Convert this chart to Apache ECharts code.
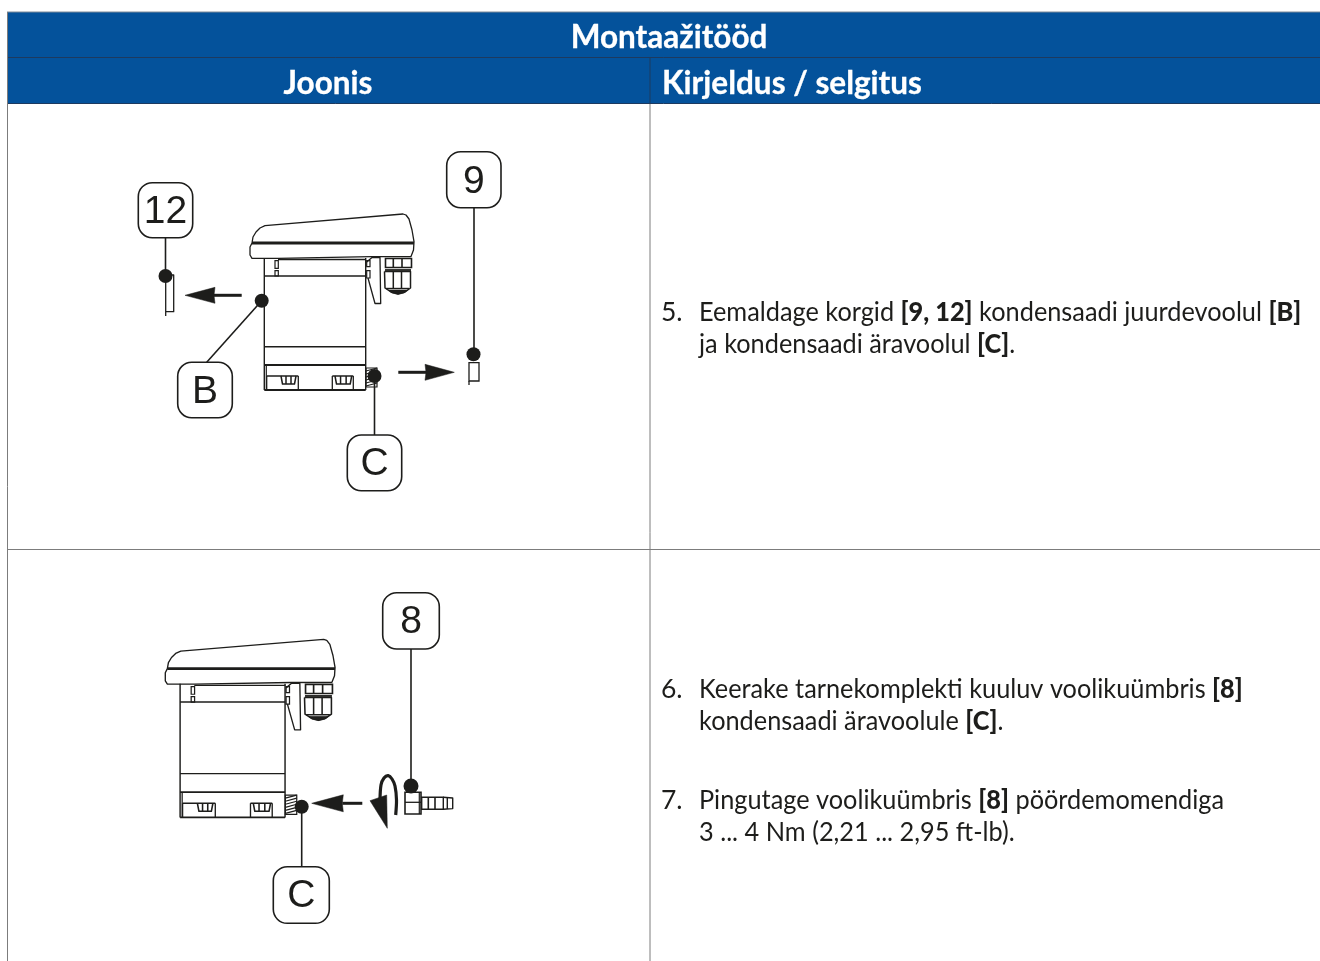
<!DOCTYPE html>
<html>
<head>
<meta charset="utf-8">
<style>
  html, body { margin: 0; padding: 0; background: #fff; }
  #main { width: 1320px; height: 961px; }
</style>
<script src="https://cdn.jsdelivr.net/npm/echarts@6/dist/echarts.min.js"></script>
</head>
<body>
<div id="main"></div>
<script>
  // texts of the table
  var tableTitle = 'Montaažitööd'
  var columnTitles = ['Joonis', 'Kirjeldus / selgitus']
  var stepNumbers = ['5.', '6.', '7.']
  var stepLines = [
    ['Eemaldage korgid {b|[9, 12]} kondensaadi juurdevoolul {b|[B]}', 'ja kondensaadi äravoolul {b|[C]}.'],
    ['Keerake tarnekomplekti kuuluv voolikuümbris {b|[8]}', 'kondensaadi äravoolule {b|[C]}.'],
    ['Pingutage voolikuümbris {b|[8]} pöördemomendiga', '3 ... 4 Nm (2,21 ... 2,95 ft-lb).']
  ]
  var calloutLabels = ['12', '9', 'B', 'C', '8', 'C']

  var BLUE = '#04529b'
  var INK = '#1d1d1b'
  var GRID = '#7c7c7c'
  var BODY_FONT = 'Lato'

  function line(x1, y1, x2, y2, w, color) {
    return {
      type: 'line', silent: true,
      shape: { x1: x1, y1: y1, x2: x2, y2: y2 },
      style: { stroke: color || INK, lineWidth: w || 1.4 }
    }
  }
  function box(x, y, w, h, lw, fill, r) {
    return {
      type: 'rect', silent: true,
      shape: { x: x, y: y, width: w, height: h, r: r || 0 },
      style: { stroke: INK, lineWidth: lw || 1.4, fill: fill || 'none' }
    }
  }
  function poly(points, lw, fill, smooth) {
    return {
      type: fill ? 'polygon' : 'polyline', silent: true,
      shape: { points: points, smooth: smooth || 0 },
      style: { stroke: INK, lineWidth: lw || 1.4, fill: fill || 'none', lineJoin: 'round' }
    }
  }
  function dot(x, y, r) {
    return {
      type: 'circle', silent: true, z: 5,
      shape: { cx: x, cy: y, r: r || 7 },
      style: { fill: INK }
    }
  }
  function text(x, y, str, font, color, align, rich, sx, outline) {
    return {
      type: 'text', silent: true, x: x, y: y, scaleX: sx || 1,
      style: {
        text: str, font: font, fill: color, align: align || 'left', verticalAlign: 'middle', rich: rich,
        stroke: outline ? color : null, lineWidth: outline || 0
      }
    }
  }
  function callout(x, y, w, h, label, dy) {
    return [
      box(x, y, w, h, 1.6, '#fff', 14),
      text(x + w / 2, y + h / 2 + dy, label, '39px "Liberation Sans"', INK, 'center')
    ]
  }
  // arrow along x: tip, base of the head, end of the shaft
  function arrow(tip, base, tail, y, half) {
    var dir = tip < base ? 1 : -1
    return [
      poly([[tip, y], [base, y - half], [base - dir * 1, y], [base, y + half]], 0.5, INK),
      line(base - dir * 1, y, tail, y, 3)
    ]
  }

  // the condensate drain, in the coordinates of the upper drawing
  function device(ox, oy, sx, sy) {
    var c = []
    // cover
    c.push(poly([[252, 243], [253, 237], [256, 232], [260, 228], [265, 225.7], [403, 214], [406, 215], [409, 219],
      [412, 230], [414, 241.7], [413.5, 250], [411, 256.5], [371.7, 256.7], [278, 258.3], [252, 258.3], [250, 255],
      [250, 247], [252, 243]], 1.3, '#fff'))
    c.push(line(252, 243, 414, 243, 2.8))
    // housing
    c.push(line(264.3, 258, 264.3, 390, 1.4))
    c.push(line(365.7, 258, 365.7, 390, 1.4))
    c.push(line(278, 259.5, 366, 259.5, 1.4))
    c.push(line(264.3, 276, 365.7, 276, 1.6))
    c.push(line(264.3, 346.7, 365.7, 346.7, 1.4))
    c.push(line(264.3, 365, 365.7, 365, 1.8))
    c.push(line(264.3, 390, 365.7, 390, 1.8))
    c.push(line(266.3, 365, 266.3, 390, 1.2))
    // pins under the cover
    c.push(box(275, 260.7, 3.3, 7.6, 1.2))
    c.push(box(275, 270.7, 3.3, 5.3, 1.2))
    c.push(box(366.7, 260.7, 3.3, 6, 1.2))
    c.push(box(366.7, 270.7, 3.3, 7.3, 1.2))
    // latch
    c.push(poly([[366.7, 262], [372, 257.5], [380, 257.5], [380.7, 303.5], [375, 303.5], [368, 278]], 1.3))
    // cable gland
    c.push(box(385.5, 258.5, 26, 9, 1.6))
    c.push(line(393.3, 258.5, 393.3, 267.5, 1.6))
    c.push(line(402, 258.5, 402, 267.5, 1.6))
    c.push(line(385, 270, 411, 270, 1.8))
    c.push(poly([[384.5, 271.5], [410.5, 271.5], [410.5, 288], [405, 292], [398, 294], [391, 292], [385, 288], [384.5, 271.5]], 1.5))
    c.push(line(393.3, 271.5, 393.3, 288, 1.5))
    c.push(line(401.5, 271.5, 401.5, 288, 1.5))
    c.push(line(386, 288.5, 409, 288.5, 1.4))
    c.push(poly([[388, 290], [408, 290], [404, 293], [398, 294.3], [392, 293]], 0.5, INK))
    // lower clips
    var clips = [[266.7, 298.3, 281, 296], [332.3, 353.3, 335, 351.7]]
    clips.forEach(function (cl) {
      c.push(line(cl[0], 376, cl[1], 376, 1.5))
      c.push(line(cl[0], 376, cl[0], 390, 1.3))
      c.push(line(cl[1], 376, cl[1], 390, 1.3))
      c.push(poly([[cl[2], 376], [cl[2] + 1.5, 384], [cl[3] - 1.5, 384], [cl[3], 376]], 1.5))
      for (var k = 1; k < 3; k++) {
        var px = cl[2] + (cl[3] - cl[2]) * k / 3
        c.push(line(px, 376, px, 384, 1.5))
      }
    })
    // threaded drain port
    c.push(box(366, 368, 11, 19, 1.2))
    for (var i = 0; i < 6; i++) {
      c.push(line(366, 371 + i * 3, 377, 368 + i * 3, 1.2))
    }
    return { type: 'group', x: ox, y: oy, scaleX: sx, scaleY: sy, silent: true, children: c }
  }

  // table frame
  var els = []
  els.push({ type: 'rect', silent: true, shape: { x: 7, y: 12, width: 1313, height: 91.5 }, style: { fill: BLUE } })
  els.push(line(7, 12, 1320, 12, 1, '#7d8a99'))
  els.push(line(7, 57.5, 1320, 57.5, 1, '#1d3a5f'))
  els.push(line(7, 103.5, 1320, 103.5, 1, '#1d3a5f'))
  els.push(line(650, 58, 650, 103, 1, '#1d3a5f'))
  els.push(line(650, 104, 650, 961, 1, GRID))
  els.push(line(7.5, 12, 7.5, 961, 1, GRID))
  els.push(line(8, 549.5, 1320, 549.5, 1, GRID))

  var headFont = '700 31.5px ' + BODY_FONT
  els.push(text(669, 38, tableTitle, headFont, '#fff', 'center', null, 1, 0.3))
  els.push(text(328, 84, columnTitles[0], headFont, '#fff', 'center', null, 1, 0.3))
  els.push(text(662, 84, columnTitles[1], headFont, '#fff', 'left', null, 1, 0.3))

  // steps
  var bodyFont = '26.5px ' + BODY_FONT
  var textScale = 0.955
  var richStyles = { b: { fontFamily: BODY_FONT, fontSize: 26.5, fontWeight: 900, fill: INK, color: INK } }
  var stepRows = [[312, 344.5], [689, 721], [800, 832]]
  stepNumbers.forEach(function (num, i) {
    els.push(text(661, stepRows[i][0], num, bodyFont, INK, 'left'))
    stepLines[i].forEach(function (str, j) {
      els.push(text(699, stepRows[i][j], str, bodyFont, INK, 'left', richStyles, textScale))
    })
  })

  // upper drawing
  els.push(device(0, 0, 1, 1))
  els.push(line(165.5, 238, 165.5, 276, 1.6))
  els.push(line(165.7, 276, 165.7, 316, 1.3))
  els.push(poly([[166, 275], [173.7, 275], [173.7, 311.7], [166, 311.7]], 1.3))
  els.push(dot(165.5, 276))
  els = els.concat(arrow(185, 215, 241.7, 295.3, 8))
  els.push(line(261.7, 300.7, 206.7, 362.3, 1.6))
  els.push(dot(261.7, 300.7))
  els = els.concat(arrow(454.3, 425, 398.3, 372.3, 8))
  els.push(line(474, 208, 474, 355, 1.6))
  els.push(dot(473.5, 354.3))
  els.push(box(469, 362.7, 10, 18.3, 1.3))
  els.push(line(469, 381, 469, 385, 1.3))
  els.push(line(374.5, 376, 374.5, 435, 1.6))
  els.push(dot(374.5, 376))
  els = els.concat(callout(138.3, 182.7, 54.4, 55, calloutLabels[0], 2))
  els = els.concat(callout(446.7, 151.7, 54.3, 56, calloutLabels[1], 3))
  els = els.concat(callout(177.7, 362.3, 54.6, 55.4, calloutLabels[2], 2))
  els = els.concat(callout(347.3, 435, 54.4, 55.7, calloutLabels[3], 1))

  // lower drawing
  els.push(device(165.3 - 250 * 1.035, 639.3 - 214 * 1.012, 1.035, 1.012))
  els = els.concat(arrow(311.7, 343.3, 362.3, 803.3, 8.5))
  els.push(line(301.7, 806.7, 301.7, 867, 1.6))
  els.push(dot(301.7, 806.7))
  els.push(line(411, 649, 411, 786, 1.6))
  els.push(dot(411, 786, 7.5))
  // hose fitting
  els.push(box(405, 792.3, 16, 21.7, 1.6))
  els.push(line(405, 802.3, 421, 802.3, 1.3))
  els.push(line(419.3, 792.3, 419.3, 814, 1.2))
  els.push(box(421.7, 797.3, 21.6, 12, 1.4))
  els.push(line(428.3, 797.3, 428.3, 809.3, 1.6))
  els.push(line(435, 797.3, 435, 809.3, 1.6))
  els.push(poly([[443.3, 797.3], [452.7, 798], [452.7, 808.6], [443.3, 809.3]], 1.4))
  els.push(line(447.3, 797.6, 447.3, 809, 1.4))
  // turning arrow
  els.push(poly([[395.7, 815], [396.5, 800], [395, 786], [392, 779], [388.3, 775.7], [384, 778], [381, 785], [380, 800]], 3.2, null, 0.3))
  els.push(poly([[370, 800.7], [386.7, 795], [387.3, 828.3]], 0.5, INK))
  els = els.concat(callout(382.7, 592.7, 56.6, 56.3, calloutLabels[4], 1))
  els = els.concat(callout(273.3, 866.7, 56, 56.6, calloutLabels[5], 1))

  var chart = echarts.init(document.getElementById('main'), null, { renderer: 'canvas' })
  chart.setOption({
    animation: false,
    backgroundColor: '#fff',
    graphic: { elements: els }
  })
</script>
</body>
</html>
